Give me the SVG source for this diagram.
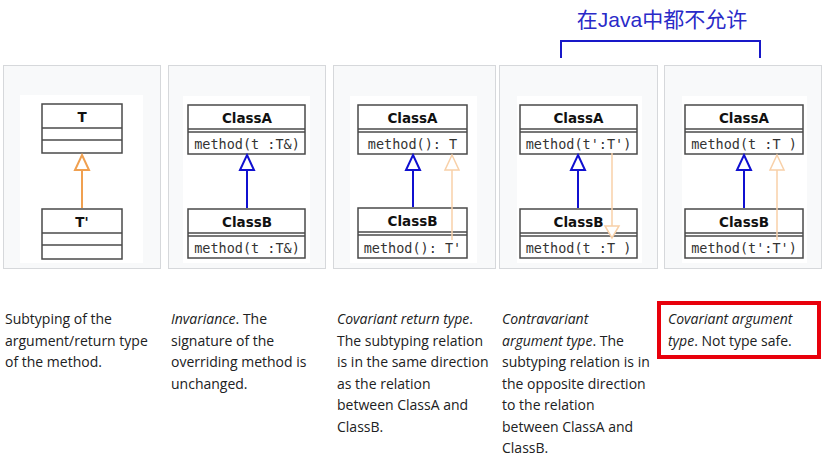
<svg xmlns="http://www.w3.org/2000/svg" width="824" height="465" viewBox="0 0 824 465">
<defs>
<style>
.frame{fill:#f8f9fa;stroke:#d6d8db;stroke-width:1}
.inner{fill:#ffffff}
.box{fill:#ffffff;stroke:#4a4a4a;stroke-width:1.5}
.sep{stroke:#4a4a4a;stroke-width:1.3}
.cn{font-family:"DejaVu Sans",sans-serif;font-weight:bold;font-size:13.5px;fill:#111;text-anchor:middle}
.m{font-family:"DejaVu Sans Mono",monospace;font-size:13.5px;fill:#333;text-anchor:middle}
.blue{stroke:#1010d0;stroke-width:2;fill:none}
.bluehead{stroke:#1010d0;stroke-width:2;fill:#fff}
.org{stroke:#f0a050;stroke-width:2;fill:none}
.orghead{stroke:#f0a050;stroke-width:2;fill:#fff}
.pale{stroke:#f8d0a8;stroke-width:1.5;fill:none}
.palehead{stroke:#f8d0a8;stroke-width:1.5;fill:#fff}
.d{font-family:"Open Sans","Noto Sans",sans-serif;font-size:14px;fill:#202122}
.i{font-style:italic}
</style>
</defs>
<rect width="824" height="465" fill="#fff"/>

<g id="title">
<text x="662" y="27" text-anchor="middle" font-family="Liberation Sans, Noto Sans CJK SC, sans-serif" font-size="21" fill="#2a2ac8">在Java中都不允许</text>
<path d="M561 58 V41 H760 V58" fill="none" stroke="#1818c8" stroke-width="2"/>
</g>

<g id="panel1">
<rect class="frame" x="3.5" y="65.5" width="157" height="203"/>
<rect class="inner" x="20" y="95" width="123" height="168"/>
<rect class="box" x="42" y="104" width="80" height="49"/>
<line class="sep" x1="42" y1="128" x2="122" y2="128"/>
<line class="sep" x1="42" y1="140" x2="122" y2="140"/>
<text class="cn" x="82" y="122">T</text>
<rect class="box" x="42" y="209" width="80" height="50"/>
<line class="sep" x1="42" y1="233" x2="122" y2="233"/>
<line class="sep" x1="42" y1="245" x2="122" y2="245"/>
<text class="cn" x="82" y="227">T'</text>
</g>

<g id="panel2">
<rect class="frame" x="168.5" y="65.5" width="157" height="203"/>
<rect class="inner" x="183" y="96" width="127" height="167"/>
<rect class="box" x="188" y="105" width="117" height="49"/>
<line class="sep" x1="188" y1="129" x2="305" y2="129"/>
<line class="sep" x1="188" y1="132" x2="305" y2="132"/>
<text class="cn" x="247" y="123">ClassA</text>
<text class="m" x="247" y="149">method(t :T&amp;)</text>
<rect class="box" x="188" y="209" width="117" height="49"/>
<line class="sep" x1="188" y1="233" x2="305" y2="233"/>
<line class="sep" x1="188" y1="236" x2="305" y2="236"/>
<text class="cn" x="247" y="227">ClassB</text>
<text class="m" x="247" y="253">method(t :T&amp;)</text>
</g>

<g id="panel3">
<rect class="frame" x="333.5" y="65.5" width="162" height="203"/>
<rect class="inner" x="350" y="96" width="127" height="167"/>
<rect class="box" x="358" y="105" width="109" height="49"/>
<line class="sep" x1="358" y1="129" x2="467" y2="129"/>
<line class="sep" x1="358" y1="132" x2="467" y2="132"/>
<text class="cn" x="412.5" y="123">ClassA</text>
<text class="m" x="412.5" y="149">method(): T</text>
<rect class="box" x="358" y="208" width="109" height="50"/>
<line class="sep" x1="358" y1="232" x2="467" y2="232"/>
<line class="sep" x1="358" y1="235" x2="467" y2="235"/>
<text class="cn" x="412.5" y="226">ClassB</text>
<text class="m" x="412.5" y="253">method(): T'</text>
</g>

<g id="panel4">
<rect class="frame" x="499.5" y="65.5" width="158" height="203"/>
<rect class="inner" x="517" y="96" width="125" height="167"/>
<rect class="box" x="520" y="105" width="117" height="49"/>
<line class="sep" x1="520" y1="129" x2="637" y2="129"/>
<line class="sep" x1="520" y1="132" x2="637" y2="132"/>
<text class="cn" x="578.5" y="123">ClassA</text>
<text class="m" x="578.5" y="149">method(t':T')</text>
<rect class="box" x="520" y="209" width="117" height="49"/>
<line class="sep" x1="520" y1="233" x2="637" y2="233"/>
<line class="sep" x1="520" y1="236" x2="637" y2="236"/>
<text class="cn" x="578.5" y="227">ClassB</text>
<text class="m" x="578.5" y="253">method(t :T )</text>
</g>

<g id="panel5">
<rect class="frame" x="664.5" y="65.5" width="157" height="203"/>
<rect class="inner" x="682" y="96" width="125" height="167"/>
<rect class="box" x="685" y="105" width="118" height="49"/>
<line class="sep" x1="685" y1="129" x2="803" y2="129"/>
<line class="sep" x1="685" y1="132" x2="803" y2="132"/>
<text class="cn" x="744" y="123">ClassA</text>
<text class="m" x="744" y="149">method(t :T )</text>
<rect class="box" x="685" y="209" width="118" height="49"/>
<line class="sep" x1="685" y1="233" x2="803" y2="233"/>
<line class="sep" x1="685" y1="236" x2="803" y2="236"/>
<text class="cn" x="744" y="227">ClassB</text>
<text class="m" x="744" y="253">method(t':T')</text>
</g>

<g id="connectors">
<line class="org" x1="82" y1="208" x2="82" y2="170"/>
<path class="orghead" d="M82 155 L89 170 H75 Z"/>
<line class="blue" x1="247" y1="208" x2="247" y2="170"/>
<path class="bluehead" d="M247 155 L254 170 H240 Z"/>
<line class="blue" x1="413" y1="207" x2="413" y2="170"/>
<path class="bluehead" d="M413 155 L420 170 H406 Z"/>
<line class="pale" x1="452" y1="240" x2="452" y2="170"/>
<path class="palehead" d="M452 155 L459 170 H445 Z"/>
<line class="blue" x1="578" y1="208" x2="578" y2="170"/>
<path class="bluehead" d="M578 155 L585 170 H571 Z"/>
<line class="pale" x1="612" y1="153" x2="612" y2="226"/>
<path class="palehead" d="M612 238 L605 226 H619 Z"/>
<line class="blue" x1="744" y1="208" x2="744" y2="170"/>
<path class="bluehead" d="M744 155 L751 170 H737 Z"/>
<line class="pale" x1="777" y1="240" x2="777" y2="170"/>
<path class="palehead" d="M777 155 L784 170 H770 Z"/>
</g>

<g id="captions">
<text class="d" x="5" y="324">Subtyping of the</text>
<text class="d" x="5" y="345.5">argument/return type</text>
<text class="d" x="5" y="367">of the method.</text>

<text class="d" x="171" y="324"><tspan class="i">Invariance</tspan>. The</text>
<text class="d" x="171" y="345.5">signature of the</text>
<text class="d" x="171" y="367">overriding method is</text>
<text class="d" x="171" y="388.5">unchanged.</text>

<text class="d" x="337" y="324"><tspan class="i">Covariant return type</tspan>.</text>
<text class="d" x="337" y="345.5">The subtyping relation</text>
<text class="d" x="337" y="367">is in the same direction</text>
<text class="d" x="337" y="388.5">as the relation</text>
<text class="d" x="337" y="410">between ClassA and</text>
<text class="d" x="337" y="431.5">ClassB.</text>

<text class="d" x="502" y="324" font-style="italic">Contravariant</text>
<text class="d" x="502" y="345.5"><tspan class="i">argument type</tspan>. The</text>
<text class="d" x="502" y="367">subtyping relation is in</text>
<text class="d" x="502" y="388.5">the opposite direction</text>
<text class="d" x="502" y="410">to the relation</text>
<text class="d" x="502" y="431.5">between ClassA and</text>
<text class="d" x="502" y="453">ClassB.</text>

<text class="d" x="668" y="324" font-style="italic">Covariant argument</text>
<text class="d" x="668" y="345.5"><tspan class="i">type</tspan>. Not type safe.</text>
<rect x="659" y="303" width="160" height="54" fill="none" stroke="#e8000b" stroke-width="4"/>
</g>
</svg>
